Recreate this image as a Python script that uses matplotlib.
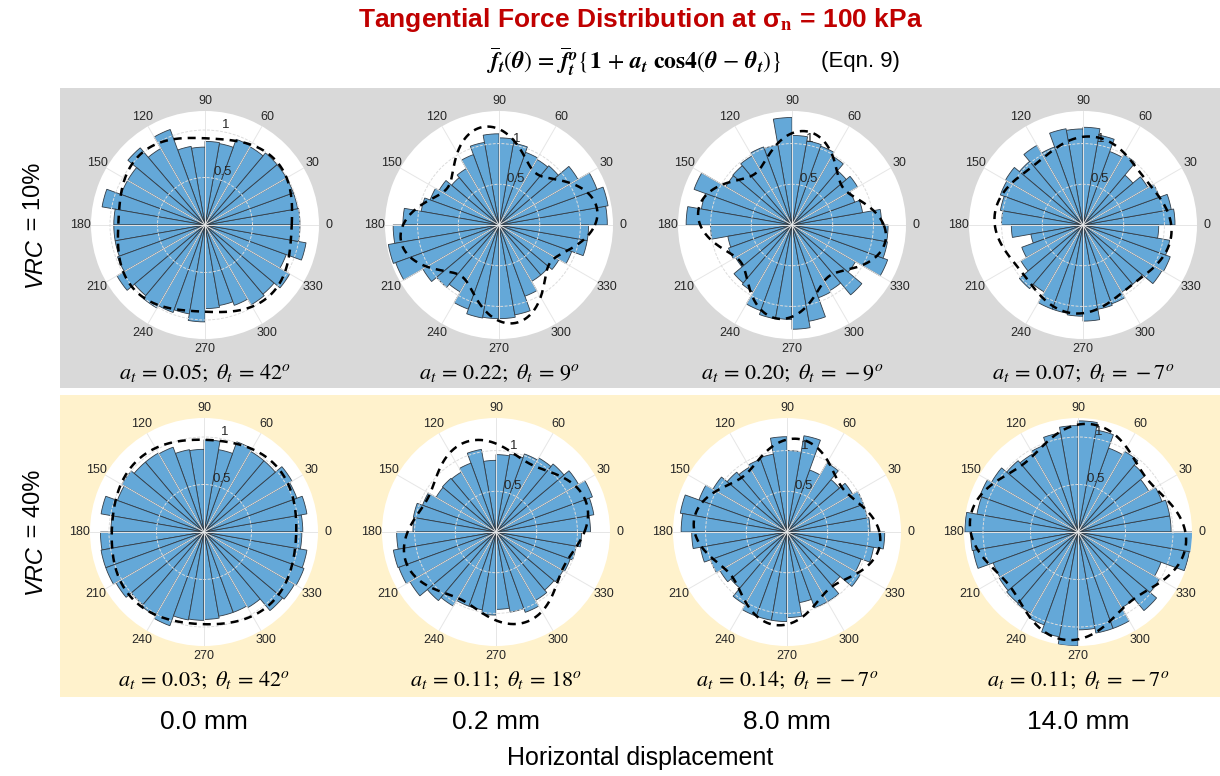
import numpy as np
import matplotlib
matplotlib.use("Agg")
import matplotlib.pyplot as plt
from matplotlib.patches import Rectangle

plt.rcParams["font.family"] = ["Liberation Sans", "DejaVu Sans"]
plt.rcParams["mathtext.fontset"] = "stix"

W, H = 1220, 776

displacements = ["0.0 mm", "0.2 mm", "8.0 mm", "14.0 mm"]
vrc_labels = ["10%", "40%"]

# Normalised mean tangential force in 36 bins of 10 deg (bin k spans 10k..10k+10 deg)
f_vrc10_d00 = [1.00, 0.99, 0.99, 0.99, 0.99, 0.95, 0.96, 0.87, 0.88, 0.82, 0.84, 1.07,
               0.93, 1.06, 0.94, 0.94, 1.10, 0.96, 0.96, 0.96, 0.98, 1.07, 0.97, 1.01,
               0.98, 0.95, 1.02, 0.88, 0.86, 0.90, 0.97, 0.95, 1.03, 0.91, 1.08, 1.00]
f_vrc10_d02 = [1.33, 1.36, 1.28, 1.12, 0.95, 0.93, 0.95, 1.02, 1.07, 1.12, 1.03, 0.92,
               0.80, 0.76, 0.85, 0.90, 0.97, 1.18, 1.30, 1.38, 1.35, 1.08, 1.00, 0.95,
               1.10, 1.16, 1.15, 1.15, 1.12, 0.93, 0.80, 0.80, 0.85, 0.95, 1.10, 1.10]
f_vrc10_d80 = [1.10, 0.88, 0.82, 0.93, 0.87, 0.98, 1.03, 1.05, 1.10, 1.32, 1.00, 1.02,
               0.98, 0.95, 0.94, 1.28, 1.13, 1.30, 1.00, 0.80, 0.83, 0.80, 0.93, 0.95,
               1.12, 1.17, 1.16, 1.28, 1.20, 0.95, 0.93, 1.12, 0.90, 1.25, 1.19, 1.18]
f_vrc10_d140 = [1.13, 1.10, 1.00, 0.92, 0.80, 1.00, 0.96, 1.12, 1.20, 1.18, 1.20, 1.02,
                1.13, 1.02, 1.10, 1.08, 1.03, 1.00, 0.88, 0.65, 0.80, 0.88, 1.02, 0.95,
                1.10, 1.10, 1.12, 1.18, 1.05, 1.03, 0.95, 0.95, 1.12, 1.14, 1.08, 0.93]
f_vrc40_d00 = [1.04, 1.10, 1.04, 1.07, 0.98, 0.98, 1.01, 0.88, 0.97, 0.87, 0.88, 0.95,
               0.96, 0.96, 1.00, 0.97, 1.10, 0.98, 1.09, 1.10, 1.10, 1.07, 1.00, 1.02,
               1.05, 0.94, 0.93, 0.92, 0.90, 0.90, 0.92, 1.08, 1.10, 1.12, 1.10, 1.03]
f_vrc40_d02 = [1.16, 1.22, 1.26, 1.17, 1.09, 1.05, 1.02, 0.97, 0.95, 0.88, 1.03, 0.90,
               0.85, 0.86, 0.85, 0.96, 1.03, 1.02, 1.22, 1.28, 1.27, 1.22, 1.10, 1.05,
               0.97, 0.97, 1.02, 0.95, 1.00, 1.05, 0.97, 0.93, 0.95, 0.97, 1.00, 1.05]
f_vrc40_d80 = [1.02, 1.00, 1.00, 0.93, 0.84, 0.98, 0.81, 1.20, 1.00, 1.17, 0.97, 0.95,
               0.92, 0.96, 1.05, 1.15, 1.33, 1.30, 1.17, 1.08, 1.00, 0.95, 0.90, 1.03,
               1.10, 1.10, 1.10, 1.05, 0.88, 0.99, 0.99, 0.85, 1.04, 0.97, 1.08, 1.20]
f_vrc40_d140 = [0.98, 0.98, 0.94, 0.86, 0.92, 0.98, 0.94, 1.09, 1.17, 1.12, 1.06, 0.98,
                0.95, 0.98, 1.05, 1.10, 1.08, 1.19, 1.13, 1.12, 0.95, 0.96, 0.98, 0.99,
                1.04, 1.12, 1.20, 1.03, 1.08, 1.08, 0.92, 1.08, 0.99, 0.93, 1.19, 1.22]

forces = [[f_vrc10_d00, f_vrc10_d02, f_vrc10_d80, f_vrc10_d140],
          [f_vrc40_d00, f_vrc40_d02, f_vrc40_d80, f_vrc40_d140]]

# Fourier fit parameters (Eqn. 9)
a_t = [[0.05, 0.22, 0.20, 0.07], [0.03, 0.11, 0.14, 0.11]]
theta_t = [[42, 9, -9, -7], [42, 18, -7, -7]]
f_mean = [[0.96, 1.00, 0.97, 1.02], [1.00, 1.05, 1.01, 1.03]]
r_max = [[1.2, 1.4, 1.4, 1.4], [1.2, 1.4, 1.4, 1.2]]

fig = plt.figure(figsize=(W / 100, H / 100), dpi=100)
fig.patch.set_facecolor("white")


def px_rect(x, y, w, h):
    return [x / W, 1 - (y + h) / H, w / W, h / H]


# row backgrounds
bg_ax = fig.add_axes([0, 0, 1, 1], zorder=-10)
bg_ax.set_xlim(0, W)
bg_ax.set_ylim(H, 0)
bg_ax.axis("off")
bg_ax.add_patch(Rectangle((60, 88), 1160, 300, facecolor="#d9d9d9", edgecolor="none"))
bg_ax.add_patch(Rectangle((60, 395), 1160, 302, facecolor="#fff2cc", edgecolor="none"))

centers_x = [[205, 499, 792, 1083], [204, 496, 787, 1078]]
centers_y = [225, 532]
R = 114

bin_edges = np.arange(0, 360, 10)
bin_centers = np.deg2rad(bin_edges + 5)
theta_fine = np.linspace(0, 2 * np.pi, 721)

for i in range(2):
    for j in range(4):
        cx, cy = centers_x[i][j], centers_y[i]
        ax = fig.add_axes(px_rect(cx - R, cy - R, 2 * R, 2 * R), projection="polar")
        ax.set_facecolor("white")
        ax.bar(bin_centers, forces[i][j], width=np.deg2rad(10), bottom=0,
               align="center", color="#64a8d8", edgecolor="#333d47",
               linewidth=0.6, zorder=1)
        fit = f_mean[i][j] * (1 + a_t[i][j] * np.cos(4 * (theta_fine - np.deg2rad(theta_t[i][j]))))
        ax.plot(theta_fine, fit, color="black", lw=1.8, ls=(0, (3.2, 2.4)), zorder=3)
        ax.set_ylim(0, r_max[i][j])
        ax.set_thetagrids(range(0, 360, 30), [str(t) for t in range(0, 360, 30)],
                          fontsize=9, color="#262626")
        ax.set_rticks([0.5, 1.0])
        ax.set_yticklabels(["0.5", "1"], fontsize=9.5, color="#262626")
        ax.set_rlabel_position(80)
        ax.set_axisbelow(False)
        ax.grid(True, color="#dcdcdc", lw=0.7, ls=(0, (3, 1.5)))
        ax.xaxis.grid(True, color="#e6e6e6", lw=0.7, ls="-")
        ax.tick_params(axis="x", pad=-3)
        ax.spines["polar"].set_visible(False)
        fig.text(cx / W, 1 - (cy + 148) / H,
                 r"$a_t\,=\,%.2f;\ \theta_t\,=\,%d^o$" % (a_t[i][j], theta_t[i][j]),
                 ha="center", va="center", fontsize=16)

for i in range(2):
    anchor_y = centers_y[i] + 12
    fig.text(34 / W, 1 - anchor_y / H, "VRC", rotation=90, rotation_mode="anchor",
             ha="right", va="center", fontsize=17, fontstyle="italic")
    fig.text(34 / W, 1 - anchor_y / H, " = " + vrc_labels[i], rotation=90,
             rotation_mode="anchor", ha="left", va="center", fontsize=17)

for j in range(4):
    fig.text(centers_x[1][j] / W, 1 - 722 / H, displacements[j],
             ha="center", va="center", fontsize=19)

fig.text(640 / W, 1 - 758 / H, "Horizontal displacement", ha="center",
         va="center", fontsize=18)

fig.text(640 / W, 1 - 20 / H, r"Tangential Force Distribution at σ$_\mathbf{n}$ = 100 kPa",
         ha="center", va="center", fontsize=19, fontweight="bold", color="#c00000")

fig.text(486 / W, 1 - 62 / H,
         r"$\overline{\mathbfit{f}}_{\mathbfit{t}}(\mathbfit{\theta})\,=\,"
         r"\overline{\mathbfit{f}}_{\mathbfit{t}}^{\mathbfit{o}}"
         r"\{\mathbf{1}\,+\,\mathbfit{a}_{\mathbfit{t}}\ \mathbf{cos4}"
         r"(\mathbfit{\theta}\,-\,\mathbfit{\theta}_{\mathbfit{t}})\}$",
         ha="left", va="center", fontsize=17)
fig.text(821 / W, 1 - 62 / H, "(Eqn. 9)", ha="left", va="center", fontsize=16)

fig.savefig("out.png", dpi=100, facecolor=fig.get_facecolor())
